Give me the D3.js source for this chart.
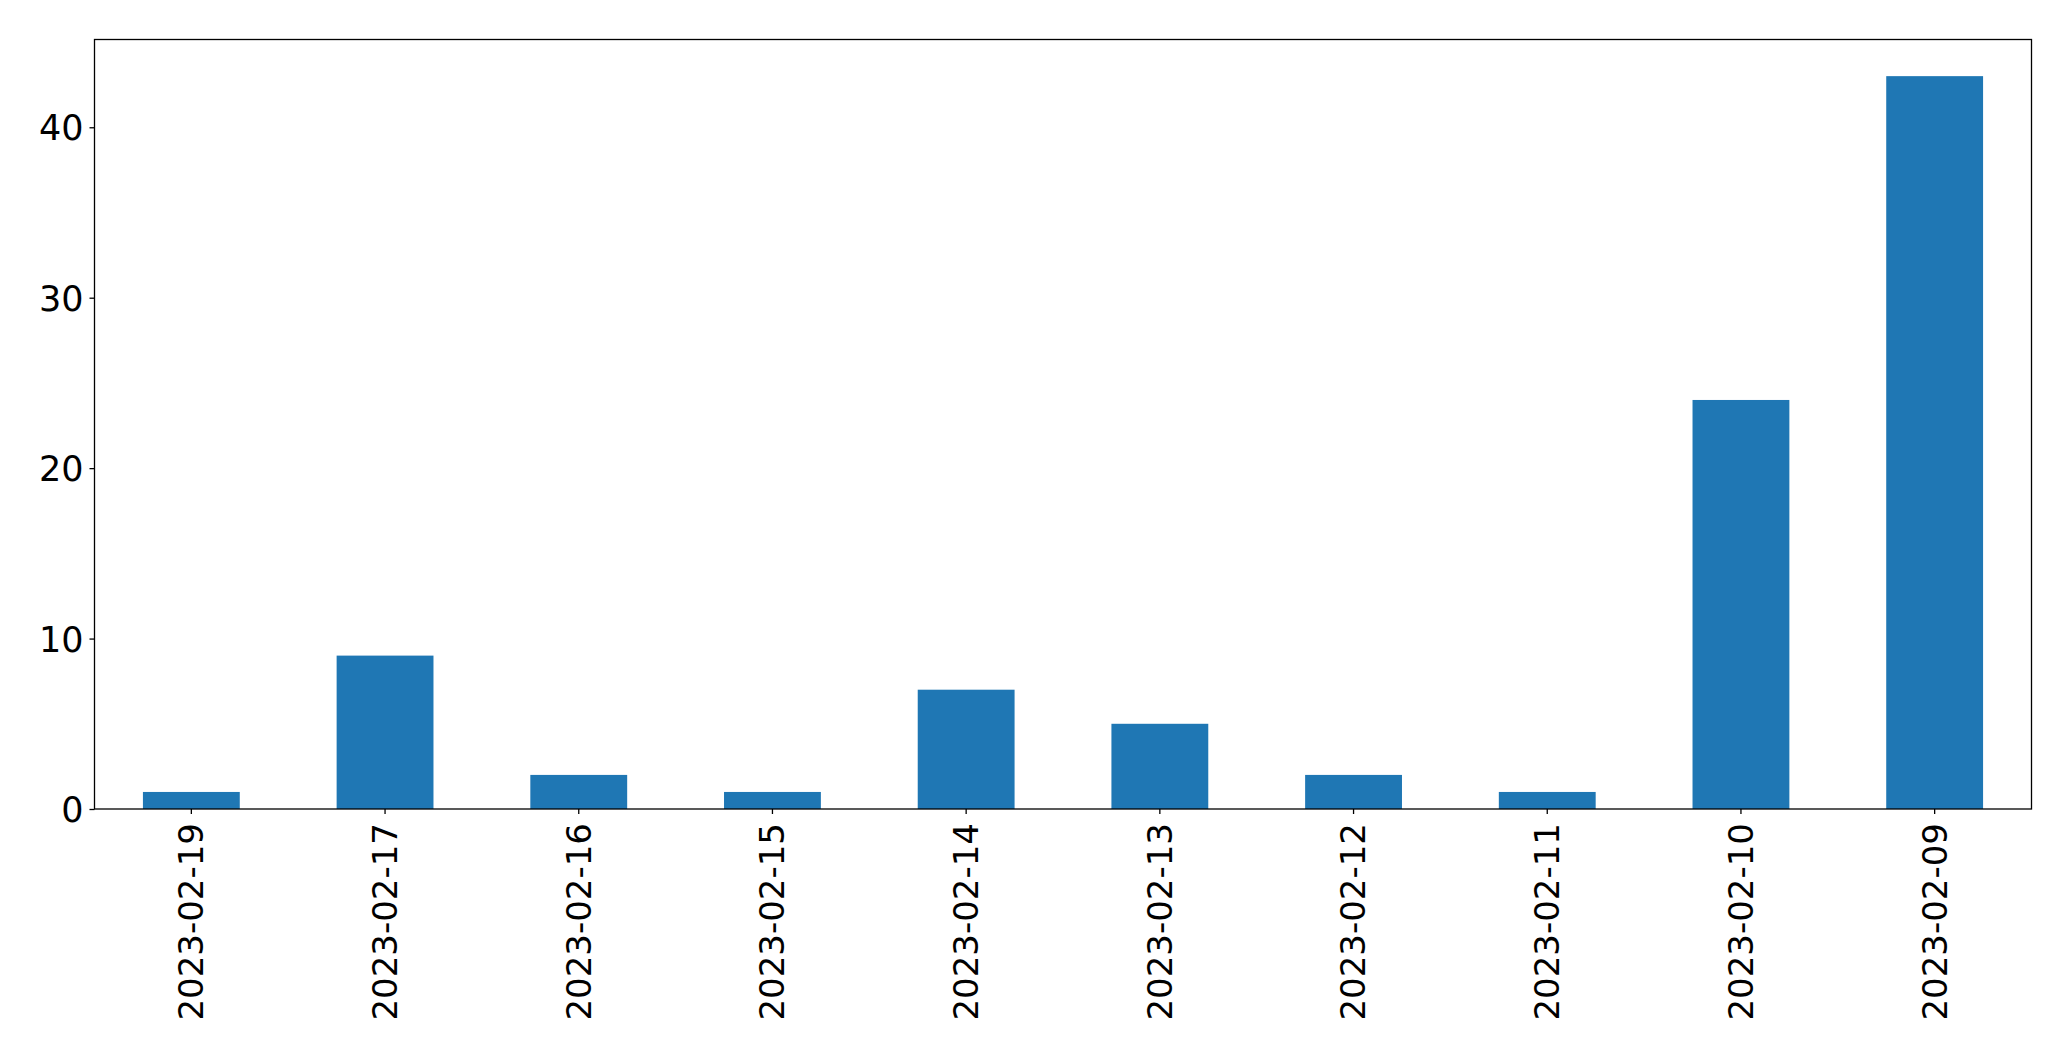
<!DOCTYPE html>
<html><head><meta charset="utf-8">
<script src="https://cdn.jsdelivr.net/npm/d3@7"></script>
<style>html,body{margin:0;padding:0;background:#fff;} svg{display:block;}</style>
</head><body>
<svg id="chart" width="2071" height="1061"></svg>
<script>
const categories = ["2023-02-19","2023-02-17","2023-02-16","2023-02-15","2023-02-14","2023-02-13","2023-02-12","2023-02-11","2023-02-10","2023-02-09"];
const values = [1, 9, 2, 1, 7, 5, 2, 1, 24, 43];
const yTicks = [0, 10, 20, 30, 40];

const svg = d3.select("#chart");
const plotLeft = 94.5, plotRight = 2031.5, plotTop = 39.5, plotBottom = 809;
const font = "DejaVu Sans, sans-serif";
const fs = 34;

const x = d3.scaleBand().domain(categories).range([plotLeft, plotRight]).paddingInner(0).paddingOuter(0);
const yMax = d3.max(values) * 1.05;
const y = d3.scaleLinear().domain([0, yMax]).range([plotBottom, plotTop]);

const barW = x.bandwidth() * 0.5;
svg.append("g").selectAll("rect").data(values).join("rect")
  .attr("x", (d, i) => x(categories[i]) + x.bandwidth() / 2 - barW / 2)
  .attr("width", barW)
  .attr("y", d => y(d))
  .attr("height", d => y(0) - y(d))
  .attr("fill", "#1f77b4");

// frame
svg.append("rect").attr("x", plotLeft).attr("y", plotTop).attr("width", plotRight - plotLeft).attr("height", plotBottom - plotTop)
  .attr("fill", "none").attr("stroke", "#000").attr("stroke-width", 1.3);

// y axis
const yAxis = d3.axisLeft(y).tickValues(yTicks).tickSize(5).tickPadding(6).tickFormat(d3.format("d"));
const gy = svg.append("g").attr("transform", `translate(${plotLeft},0)`).call(yAxis);
gy.select(".domain").remove();
gy.selectAll(".tick line").attr("stroke", "#000").attr("stroke-width", 1.3);
gy.selectAll(".tick text").attr("font-family", font).attr("font-size", 35).attr("fill", "#000").attr("dy", "0.36em");

// x axis
const xAxis = d3.axisBottom(x).tickSize(5).tickPadding(8);
const gx = svg.append("g").attr("transform", `translate(0,${plotBottom})`).call(xAxis);
gx.select(".domain").remove();
gx.selectAll(".tick line").attr("stroke", "#000").attr("stroke-width", 1.3);
gx.selectAll(".tick text")
  .attr("font-family", font).attr("font-size", fs).attr("fill", "#000")
  .attr("text-anchor", "end")
  .attr("transform", "translate(0,14) rotate(-90)")
  .attr("x", 0).attr("y", 0).attr("dy", "0.35em");
</script>
</body></html>
